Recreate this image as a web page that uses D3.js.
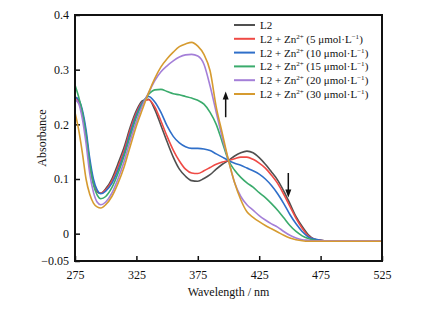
<!DOCTYPE html>
<html>

<head>
  <meta charset="utf8">
  <script src="https://d3js.org/d3.v7.min.js"></script>
  <style>
    body {
      margin: 0;
      background: #fff;
    }

    text {
      font-family: "Liberation Serif", "DejaVu Serif", serif;
      fill: #111;
    }

    .tick text {
      font-size: 12px;
    }

    .legend text {
      font-size: 11px;
    }

    .series {
      fill: none;
      stroke-width: 1.6;
      stroke-linejoin: round;
    }
  </style>
</head>

<body>
  <svg id="chart" width="422" height="309"></svg>
  <script>
    var wavelengths = [275, 278, 281, 284, 287, 290, 293, 296, 300, 305, 310, 315, 320, 325, 330, 335, 340, 345,
      350, 355, 360, 365, 370, 375, 380, 385, 390, 395, 400, 405, 410, 415, 420, 425, 430, 435, 440, 445, 450,
      455, 460, 465, 470, 475, 480, 490, 500, 510, 525];

    var seriesNames = ["L2", "5", "10", "15", "20", "30"];

    var absL2 = [0.25, 0.244, 0.22, 0.18, 0.125, 0.092, 0.077, 0.074, 0.082, 0.1, 0.128, 0.158, 0.195, 0.225, 0.243,
      0.246, 0.227, 0.198, 0.168, 0.14, 0.118, 0.105, 0.097, 0.096, 0.101, 0.108, 0.118, 0.127, 0.134, 0.142, 0.148,
      0.151, 0.148, 0.139, 0.127, 0.113, 0.098, 0.078, 0.055, 0.031, 0.013, -0.002, -0.01, -0.012, -0.013, -0.013,
      -0.013, -0.013, -0.013];
    var abs5 = [0.248, 0.243, 0.222, 0.183, 0.13, 0.095, 0.078, 0.074, 0.08, 0.096, 0.122, 0.152, 0.19, 0.221, 0.241,
      0.245, 0.232, 0.206, 0.178, 0.153, 0.133, 0.118, 0.111, 0.11, 0.115, 0.121, 0.127, 0.131, 0.134, 0.137, 0.14,
      0.14, 0.136, 0.129, 0.12, 0.107, 0.092, 0.072, 0.05, 0.028, 0.01, -0.004, -0.01, -0.012, -0.013, -0.013,
      -0.013, -0.013, -0.013];
    var abs10 = [0.25, 0.245, 0.226, 0.19, 0.138, 0.1, 0.08, 0.073, 0.078, 0.092, 0.116, 0.146, 0.184, 0.217, 0.24,
      0.251, 0.241, 0.222, 0.197, 0.178, 0.166, 0.159, 0.156, 0.156, 0.155, 0.152, 0.146, 0.14, 0.134, 0.129, 0.125,
      0.12, 0.115, 0.109, 0.1, 0.088, 0.073, 0.055, 0.035, 0.018, 0.004, -0.006, -0.01, -0.012, -0.013, -0.013,
      -0.013, -0.013, -0.013];
    var abs15 = [0.272, 0.25, 0.222, 0.18, 0.128, 0.09, 0.071, 0.064, 0.068, 0.084, 0.11, 0.142, 0.178, 0.213, 0.238,
      0.255, 0.263, 0.264, 0.26, 0.256, 0.254, 0.251, 0.248, 0.244, 0.237, 0.222, 0.2, 0.167, 0.134, 0.116, 0.103,
      0.093, 0.085, 0.075, 0.066, 0.055, 0.043, 0.029, 0.015, 0.004, -0.004, -0.009, -0.012, -0.013, -0.013, -0.013,
      -0.013, -0.013, -0.013];
    var abs20 = [0.245, 0.238, 0.21, 0.165, 0.11, 0.076, 0.058, 0.053, 0.058, 0.074, 0.1, 0.132, 0.17, 0.205, 0.235,
      0.258, 0.28, 0.296, 0.307, 0.316, 0.323, 0.327, 0.328, 0.325, 0.31, 0.27, 0.222, 0.175, 0.134, 0.093, 0.068,
      0.053, 0.043, 0.033, 0.025, 0.018, 0.012, 0.004, -0.003, -0.008, -0.011, -0.012, -0.013, -0.013, -0.013,
      -0.013, -0.013, -0.013, -0.013];
    var abs30 = [0.222, 0.19, 0.148, 0.1, 0.072, 0.056, 0.049, 0.047, 0.053, 0.068, 0.092, 0.122, 0.16, 0.197, 0.228,
      0.258, 0.284, 0.305, 0.32, 0.332, 0.342, 0.347, 0.35, 0.343, 0.328, 0.298, 0.232, 0.183, 0.134, 0.093, 0.062,
      0.04, 0.03, 0.022, 0.015, 0.009, 0.003, -0.003, -0.008, -0.011, -0.013, -0.014, -0.014, -0.014, -0.014,
      -0.014, -0.014, -0.014, -0.014];

    var xTicks = [275, 325, 375, 425, 475, 525];
    var yTicks = [-0.05, 0, 0.1, 0.2, 0.3, 0.4];

    var colors = ["#505050", "#ef4a45", "#2f6fc9", "#3aab6c", "#a47fd8", "#d69b30"];

    var chart = d3.select('#chart');
    var margin = { left: 75, right: 40, top: 15, bottom: 48 };
    var width = +chart.attr('width');
    var height = +chart.attr('height');

    var x = d3.scaleLinear().domain([275, 525]).range([margin.left, width - margin.right]);
    var y = d3.scaleLinear().domain([-0.05, 0.4]).range([height - margin.bottom, margin.top]);

    var tickFormat = function (d) { return d === 0 ? '0' : (d < 0 ? '\u2212' + Math.abs(d) : d.toFixed(1)); };

    // axes with inward ticks
    var xAxis = chart.append('g')
      .attr('transform', 'translate(0,' + y.range()[0] + ')')
      .call(d3.axisBottom(x).tickValues(xTicks).tickSizeInner(-5).tickSizeOuter(0).tickPadding(9));
    var yAxis = chart.append('g')
      .attr('transform', 'translate(' + x.range()[0] + ',0)')
      .call(d3.axisLeft(y).tickValues(yTicks).tickFormat(tickFormat).tickSizeInner(-5).tickSizeOuter(0).tickPadding(6));

    [xAxis, yAxis].forEach(function (a) {
      a.select('.domain').remove();
      a.selectAll('.tick line').attr('stroke', '#111').attr('stroke-width', 1.5);
      a.selectAll('.tick text').attr('fill', '#111');
    });

    // series
    var line = d3.line()
      .x(function (d) { return x(d[0]); })
      .y(function (d) { return y(d[1]); })
      .curve(d3.curveMonotoneX);

    var allSeries = [absL2, abs5, abs10, abs15, abs20, abs30];
    allSeries.forEach(function (vals, i) {
      chart.append('path')
        .attr('class', 'series')
        .attr('stroke', colors[i])
        .attr('d', line(wavelengths.map(function (w, j) { return [w, vals[j]]; })));
    });

    // frame
    chart.append('rect')
      .attr('x', x.range()[0])
      .attr('y', y.range()[1])
      .attr('width', x.range()[1] - x.range()[0])
      .attr('height', y.range()[0] - y.range()[1])
      .attr('fill', 'none')
      .attr('stroke', '#111')
      .attr('stroke-width', 2);

    // axis titles
    chart.append('text')
      .attr('x', (x.range()[0] + x.range()[1]) / 2)
      .attr('y', height - 13)
      .attr('text-anchor', 'middle')
      .attr('font-size', 12)
      .text('Wavelength / nm');

    chart.append('text')
      .attr('transform', 'translate(46,' + (y.range()[0] + y.range()[1]) / 2 + ') rotate(-90)')
      .attr('text-anchor', 'middle')
      .attr('font-size', 12)
      .text('Absorbance');

    // legend
    var legend = chart.append('g')
      .attr('class', 'legend')
      .attr('transform', 'translate(234,25)');

    var rows = legend.selectAll('g')
      .data(seriesNames)
      .enter()
      .append('g')
      .attr('transform', function (d, i) { return 'translate(0,' + i * 13.8 + ')'; });

    rows.append('line')
      .attr('x1', 0)
      .attr('x2', 21)
      .attr('stroke', function (d, i) { return colors[i]; })
      .attr('stroke-width', 2);

    rows.each(function (d, i) {
      var t = d3.select(this).append('text')
        .attr('x', 26)
        .attr('y', 4);
      if (i === 0) {
        t.text('L2');
        return;
      }
      t.append('tspan').text('L2 + Zn');
      t.append('tspan').attr('font-size', 7).attr('dy', -4).text('2+');
      t.append('tspan').attr('dy', 4).text(' (' + d + ' \u03bcmol\u00b7L');
      t.append('tspan').attr('font-size', 7).attr('dy', -4).text('\u22121');
      t.append('tspan').attr('dy', 4).text(')');
    });

    // arrows
    var arrows = [
      { w: 397.7, from: 0.213, to: 0.26 },
      { w: 448.7, from: 0.111, to: 0.066 }
    ];
    arrows.forEach(function (a) {
      var x0 = x(a.w), y0 = y(a.from), y1 = y(a.to);
      var dir = y1 < y0 ? 1 : -1;
      chart.append('line')
        .attr('x1', x0).attr('x2', x0)
        .attr('y1', y0).attr('y2', y1 + dir * 6)
        .attr('stroke', '#111').attr('stroke-width', 1.5);
      chart.append('path')
        .attr('d', 'M' + x0 + ',' + y1 + 'L' + (x0 - 3) + ',' + (y1 + dir * 8) + 'L' + (x0 + 3) + ',' + (y1 + dir * 8) + 'Z')
        .attr('fill', '#111');
    });
  </script>
</body>

</html>
